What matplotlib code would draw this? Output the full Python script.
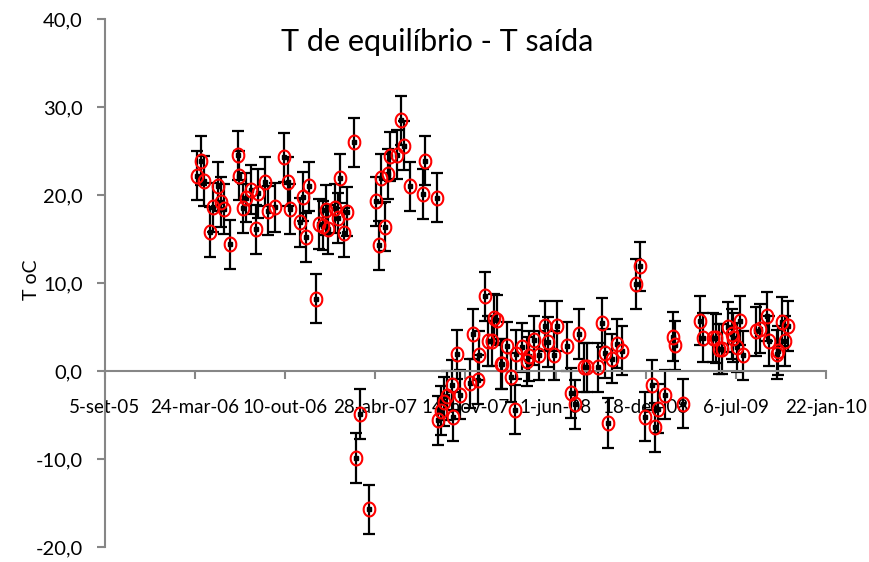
import numpy as np
import pandas as pd
import matplotlib
matplotlib.use("Agg")
import matplotlib.pyplot as plt
from matplotlib.path import Path

plt.rcParams['font.family'] = ['Lato', 'DejaVu Sans']

# dias contados a partir de 5-set-05 e T (oC)
dias = [204, 213, 219, 233, 239, 250, 257, 264, 277, 295, 297, 306, 312, 324,
        335, 339, 355, 361, 377, 397, 406, 410, 432, 439, 445, 452, 468, 476,
        483, 490, 494, 510, 516, 521, 530, 536, 552, 558, 565, 585, 601, 607,
        612, 621, 627, 632, 647, 656, 663, 676, 705, 711, 736,
        740, 745, 753, 758, 771, 773, 782, 787, 809, 816, 827, 829, 844, 849,
        858, 864, 869, 878, 882, 893, 902, 909, 913, 926, 937, 940, 951, 964,
        977, 984, 997, 1004, 1026, 1035, 1043, 1053, 1062, 1070, 1095, 1104,
        1110, 1117, 1126, 1137, 1148, 1179, 1188, 1199, 1214, 1221, 1228, 1243,
        1261, 1265, 1283, 1321, 1327, 1350, 1356, 1363, 1370, 1383, 1392, 1394,
        1403, 1409, 1416, 1445, 1454, 1469, 1474, 1491, 1494, 1503, 1509, 1516]
temp = [22.2, 23.9, 21.6, 15.8, 18.6, 21.0, 19.2, 18.4, 14.4, 24.5, 22.2, 18.5,
        19.7, 20.6, 16.1, 20.2, 21.5, 18.2, 18.6, 24.3, 21.5, 18.4, 16.9, 19.8,
        15.2, 21.0, 8.2, 16.7, 16.5, 18.3, 16.1, 18.5, 17.4, 21.9, 15.7, 18.1,
        26.0, -9.9, -4.9, -15.7, 19.3, 14.3, 21.9, 16.4, 22.4, 24.4, 24.6, 28.5,
        25.6, 21.0, 20.1, 23.9, 19.7,
        -5.6, -4.5, -3.5, -2.8, -1.6, -5.2, 1.9, -2.7, -1.4, 4.2, -1.0, 1.8, 8.5,
        3.4, 3.4, 6.0, 5.8, 0.8, 0.8, 2.8, -0.7, -4.4, 1.9, 2.7, 1.1, 1.7, 3.5,
        1.8, 5.1, 3.3, 1.8, 5.1, 2.8, -2.5, -3.8, 4.2, 0.4, 0.4, 0.4, 5.5, 2.0,
        -5.9, 1.4, 3.1, 2.3, 9.9, 11.9, -5.2, -1.6, -6.4, -4.3, -2.7, 3.9, 2.9,
        -3.7, 5.7, 3.8, 3.8, 3.7, 2.5, 2.5, 5.0, 4.2, 3.8, 2.7, 5.7, 1.8, 4.5,
        4.8, 6.2, 3.4, 1.9, 2.3, 5.6, 3.4, 5.1]
erro = 2.8

inicio = pd.Timestamp("2005-09-05")
x = [inicio + pd.Timedelta(days=d) for d in dias]

xticks_dias = [0, 200, 400, 600, 800, 1000, 1200, 1400, 1600]
xtick_labels = ['5-set-05', '24-mar-06', '10-out-06', '28-abr-07', '14-nov-07',
                '1-jun-08', '18-dez-08', '6-jul-09', '22-jan-10']
yticks = [-20, -10, 0, 10, 20, 30, 40]

# marcador em forma de elipse (círculo do Excel, um pouco mais alto)
t = np.linspace(0, 2 * np.pi, 60)
elipse = Path(np.column_stack([0.42 * np.cos(t), 0.5 * np.sin(t)]))

fig = plt.figure(figsize=(8.69, 5.62), dpi=100)
ax = fig.add_axes([0.1208, 0.0267, 0.8297, 0.9395])

ax.errorbar(x, temp, yerr=erro, fmt='s', color='black', ms=3.5,
            ecolor='black', elinewidth=1.6, capsize=4.5, capthick=1.6, zorder=2)
ax.plot(x, temp, linestyle='None', marker=elipse, ms=10, mfc='none',
        mec='red', mew=1.5, zorder=3)

ax.set_xlim(inicio, inicio + pd.Timedelta(days=1600))
ax.set_ylim(-20, 40)
ax.set_xticks([inicio + pd.Timedelta(days=d) for d in xticks_dias])
ax.set_xticklabels(xtick_labels)
ax.set_yticks(yticks)
ax.set_yticklabels([f"{v:.1f}".replace('.', ',') for v in yticks])

for s in ['top', 'right']:
    ax.spines[s].set_visible(False)
ax.spines['bottom'].set_position(('data', 0))
for s in ['left', 'bottom']:
    ax.spines[s].set_color('#868686')
    ax.spines[s].set_linewidth(1.5)
ax.tick_params(axis='x', direction='out', length=6, width=1.5, color='#868686',
               pad=14, labelsize=13.5)
ax.tick_params(axis='y', direction='out', length=6, width=1.5, color='#868686',
               pad=10, labelsize=14.5)

ax.set_ylabel("T oC", fontsize=14)
ax.yaxis.set_label_coords(-0.09, 0.506)
fig.text(0.503, 0.925, "T de equilíbrio - T saída", ha='center', va='center',
         fontsize=22)

fig.savefig("out.png")
